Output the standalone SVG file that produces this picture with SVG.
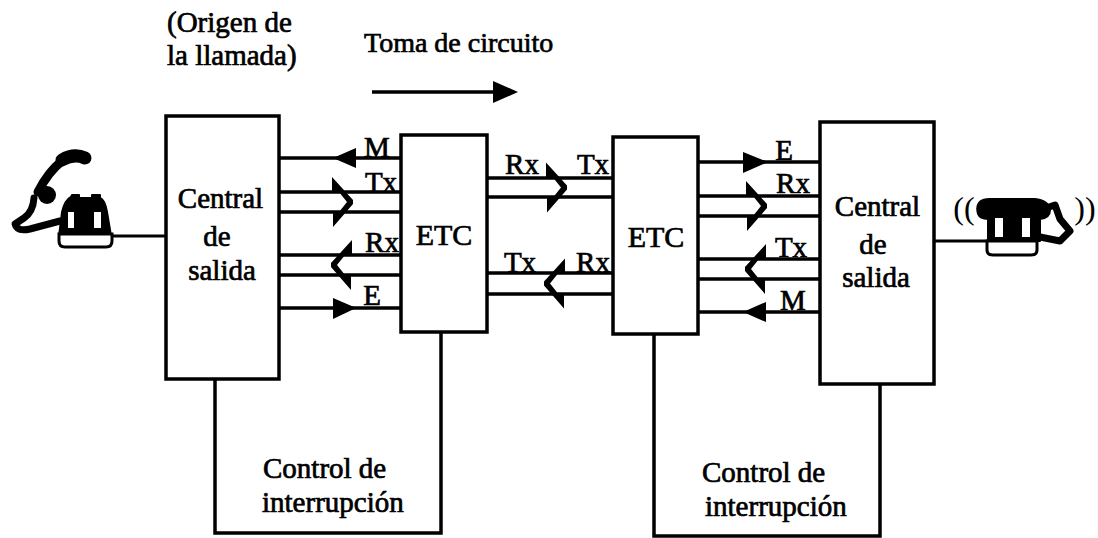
<svg xmlns="http://www.w3.org/2000/svg" width="1098" height="538" viewBox="0 0 1098 538">
<style>
text{font-family:"Liberation Serif","Times New Roman",serif;font-size:29px;fill:#000;stroke:#000;stroke-width:.7px;text-anchor:middle}
.s{text-anchor:start}
.box{fill:#fff;stroke:#000;stroke-width:3.5}
.l{fill:none;stroke:#000;stroke-width:3.5}
.t{fill:none;stroke:#000;stroke-width:3}
.h{fill:#000;stroke:none}
.ph{fill:#000;stroke:#000;stroke-width:2;stroke-linejoin:round}
.hs{fill:none;stroke:#000;stroke-linecap:round;stroke-linejoin:round}
.o{fill:#fff;stroke:#000;stroke-width:3}
</style>
<defs>
<path id="dbl" class="h" d="M-20-25L1-2V2L-19 25V10H-13L-5 0L-13-10H-20Z"/>
</defs>
<rect width="1098" height="538" fill="#fff"/>
<g id="connectors">
<path class="t" d="M113 236H166M934 241H990"/>
<path class="l" d="M279 158H401M279 192H401M279 212H401M279 255H401M279 275H401M279 308H401"/>
<path class="l" d="M487 178H613M487 197H613M487 273H613M487 294H613"/>
<path class="l" d="M698 162H820M698 196H820M698 216H820M698 259H820M698 279H820M698 312H820"/>
<path class="l" d="M215 379V533H441V332M654 334V536H880V384"/>
<path class="l" d="M372 92H495"/>
<path class="h" d="M493 81L518 92L493 103Z"/>
<path class="h" d="M333 158L356 148V168Z"/>
<path class="h" d="M333 298L354 307V309L333 319Z"/>
<path class="h" d="M743 152L768 162L743 173Z"/>
<path class="h" d="M743 312L766 302V322Z"/>
<use href="#dbl" transform="translate(352 202)"/>
<use href="#dbl" transform="translate(332 265) scale(-1 1)"/>
<use href="#dbl" transform="translate(566 187.500)"/>
<use href="#dbl" transform="translate(545 283.500) scale(-1 1)"/>
<use href="#dbl" transform="translate(766 206)"/>
<use href="#dbl" transform="translate(746 269) scale(-1 1)"/>
</g>
<g id="central-izq"><rect class="box" x="166" y="116" width="113" height="263"/><text x="220.500" y="208">Central</text><text x="217" y="246">de</text><text x="222" y="280">salida</text></g>
<g id="etc-1"><rect class="box" x="401" y="135" width="86" height="197"/><text x="444" y="245" style="font-size:30px">ETC</text></g>
<g id="etc-2"><rect class="box" x="613" y="137" width="85" height="197"/><text x="656" y="247" style="font-size:30px">ETC</text></g>
<g id="central-der"><rect class="box" x="820" y="122" width="114" height="262"/><text x="877.500" y="216">Central</text><text x="873" y="254">de</text><text x="876" y="287">salida</text></g>
<g id="telefono-izq">
<path class="hs" stroke-width="9" d="M62 161Q48 172 38 192"/>
<path class="hs" stroke-width="13" d="M85 158Q74 153 62 160"/>
<circle cx="47" cy="195" r="9"/>
<path class="hs" stroke-width="7" d="M34 198Q33 212 24 218L15 224Q17 232 30 229L60 221"/>
<path class="ph" d="M71 197L72 195H79V198H92V195H100V198Q105 200 107 212L111 236H59L62 212Q65 200 71 197Z"/>
<path class="o" d="M59 234H112V241Q112 247 106 247H65Q59 247 59 241Z"/>
<path d="M68 212H74V228H68ZM94 212H101V228H94Z" fill="#fff"/>
</g>
<g id="telefono-der">
<path class="hs" stroke-width="7" d="M1046 208L1055 205L1060 219L1070 231L1060 241L1040 237"/>
<path class="ph" d="M978 214Q974 199 990 199H1035Q1048 200 1050 210Q1050 218 1040 219V241H988V219Q980 219 978 214Z"/>
<path class="o" d="M987 241H1037V250Q1037 255 1031 255H993Q987 255 987 250Z"/>
<path d="M995 218H1003V237H995ZM1022 218H1030V237H1022Z" fill="#fff"/>
</g>
<g id="textos">
<text class="s" x="167" y="32">(Origen de</text>
<text class="s" x="167" y="65">la llamada)</text>
<text class="s" x="364" y="52" style="font-size:28px">Toma de circuito</text>
<text x="377" y="157">M</text><text x="381" y="192">Tx</text><text x="382" y="252">Rx</text><text x="372" y="305">E</text>
<text x="522" y="174">Rx</text><text x="593" y="174">Tx</text><text x="520" y="272">Tx</text><text x="593" y="272">Rx</text>
<text x="784" y="160">E</text><text x="793" y="193">Rx</text><text x="791" y="257">Tx</text><text x="793" y="310">M</text>
<text class="s" x="263" y="478">Control de</text><text class="s" x="262" y="512">interrupción</text>
<text class="s" x="702" y="482">Control de</text><text class="s" x="705" y="516">interrupción</text>
<text x="964" y="219" style="font-size:32px;stroke-width:0">((</text><text x="1085" y="219" style="font-size:32px;stroke-width:0">))</text>
</g>
</svg>
